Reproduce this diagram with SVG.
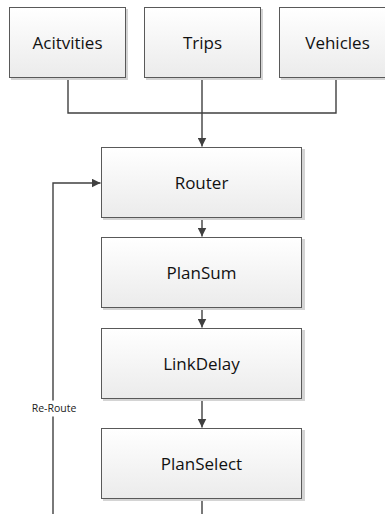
<svg xmlns="http://www.w3.org/2000/svg" width="385" height="514" viewBox="0 0 385 514">
  <defs>
    <linearGradient id="boxFill" x1="0" y1="0" x2="0" y2="1">
      <stop offset="0" stop-color="#ffffff"/>
      <stop offset="1" stop-color="#ebebeb"/>
    </linearGradient>
    <marker id="arrow" viewBox="0 0 10 10" refX="10" refY="5" markerWidth="9" markerHeight="9" markerUnits="userSpaceOnUse" orient="auto">
      <path d="M0,0 L10,5 L0,10 Z" fill="#404040"/>
    </marker>
  </defs>
  <style>
    .shadow { fill: #d4d4d4; }
    .box { fill: url(#boxFill); stroke: #595959; stroke-width: 1; }
    .label { font-family: "Open Sans", "Liberation Sans", sans-serif; font-size: 17px; fill: #111111; text-anchor: middle; }
    .edge { fill: none; stroke: #404040; stroke-width: 1.4; }
    .edge-label { font-family: "Open Sans", "Liberation Sans", sans-serif; font-size: 10.5px; fill: #222222; text-anchor: middle; }
  </style>
  <rect width="385" height="514" fill="#ffffff"/>

  <g id="connectors">
    <path class="edge" d="M68,78.5 V113 H336 V78.5"/>
    <path class="edge" d="M202,78.5 V146.5" marker-end="url(#arrow)"/>
    <path class="edge" d="M202,218.5 V236.5" marker-end="url(#arrow)"/>
    <path class="edge" d="M202,308.5 V327.5" marker-end="url(#arrow)"/>
    <path class="edge" d="M202,398.5 V427.5" marker-end="url(#arrow)"/>
    <path class="edge" d="M202,499.5 V514"/>
    <path class="edge" d="M53,514 V416.5"/>
    <path class="edge" d="M53,400.5 V183 H100.5" marker-end="url(#arrow)"/>
    <text class="edge-label" x="54" y="412">Re-Route</text>
  </g>

  <g id="node-activities">
    <rect class="shadow" x="11" y="9" width="117" height="71"/>
    <rect class="box" x="9.5" y="7.5" width="116" height="70"/>
    <text class="label" x="67.5" y="48.5">Acitvities</text>
  </g>
  <g id="node-trips">
    <rect class="shadow" x="146" y="9" width="117" height="71"/>
    <rect class="box" x="144.5" y="7.5" width="116" height="70"/>
    <text class="label" x="202.5" y="48.5">Trips</text>
  </g>
  <g id="node-vehicles">
    <rect class="shadow" x="281" y="9" width="117" height="71"/>
    <rect class="box" x="279.5" y="7.5" width="116" height="70"/>
    <text class="label" x="337.5" y="48.5">Vehicles</text>
  </g>
  <g id="node-router">
    <rect class="shadow" x="103" y="149" width="202" height="71"/>
    <rect class="box" x="101.5" y="147.5" width="200" height="70"/>
    <text class="label" x="201.5" y="188.5">Router</text>
  </g>
  <g id="node-plansum">
    <rect class="shadow" x="103" y="239" width="202" height="71"/>
    <rect class="box" x="101.5" y="237.5" width="200" height="70"/>
    <text class="label" x="201.5" y="278.5">PlanSum</text>
  </g>
  <g id="node-linkdelay">
    <rect class="shadow" x="103" y="330" width="202" height="71"/>
    <rect class="box" x="101.5" y="328.5" width="200" height="70"/>
    <text class="label" x="201.5" y="369.5">LinkDelay</text>
  </g>
  <g id="node-planselect">
    <rect class="shadow" x="103" y="430" width="202" height="71"/>
    <rect class="box" x="101.5" y="428.5" width="200" height="70"/>
    <text class="label" x="201.5" y="469.5">PlanSelect</text>
  </g>
</svg>
